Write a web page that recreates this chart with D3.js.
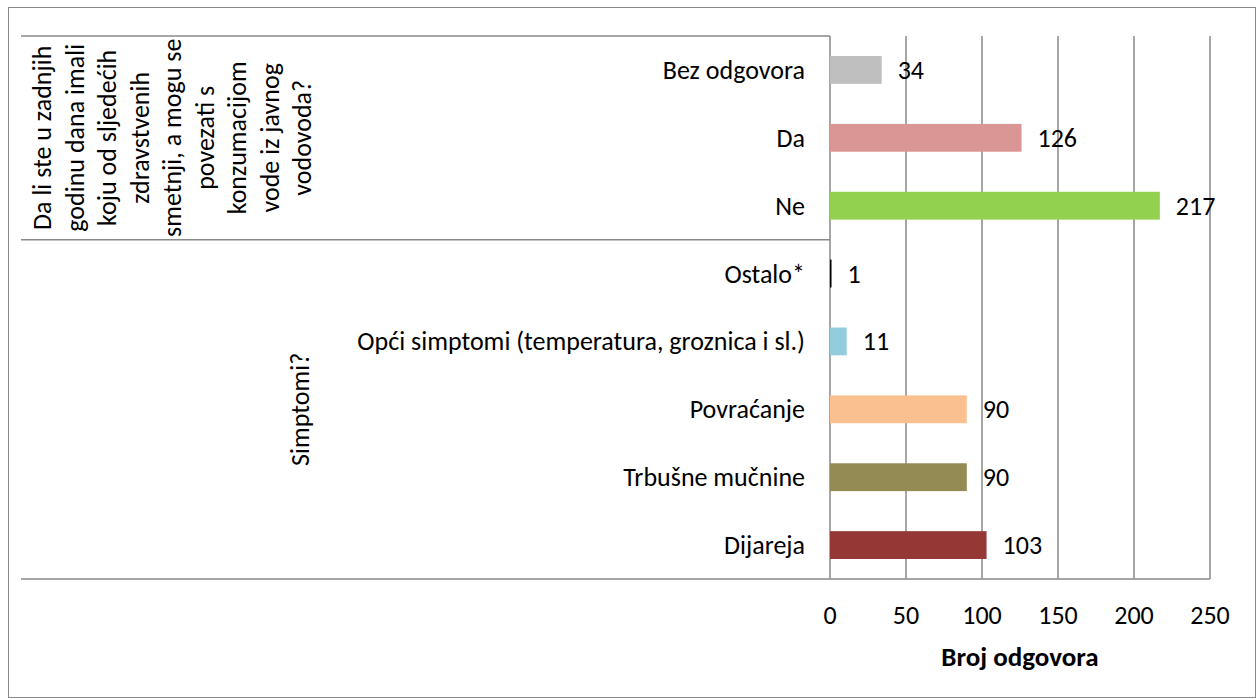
<!DOCTYPE html>
<html>
<head>
<meta charset="utf-8">
<script src="https://cdn.jsdelivr.net/npm/d3@7"></script>
<style>
  body { margin: 0; background: #fff; }
  text { font-family: Calibri, Carlito, Lato, sans-serif; fill: #000; }
</style>
</head>
<body>
<div id="chart"></div>
<script>
// Chart data
const categories = ["Bez odgovora", "Da", "Ne", "Ostalo*", "Opći simptomi (temperatura, groznica i sl.)", "Povraćanje", "Trbušne mučnine", "Dijareja"];
const values = [34, 126, 217, 1, 11, 90, 90, 103];
const colors = ["#BFBFBF", "#D99694", "#92D050", "#000000", "#93CDDD", "#FAC090", "#948A54", "#953735"];
const groupLines = ["Da li ste u zadnjih", "godinu dana imali", "koju od sljedećih", "zdravstvenih", "smetnji, a mogu se", "povezati s", "konzumacijom", "vode iz javnog", "vodovoda?"];
const groups = [
    {label: groupLines, from: 0, to: 2},
    {label: ["Simptomi?"], from: 3, to: 7}
];
const ticks = [0, 50, 100, 150, 200, 250];
const axisTitle = "Broj odgovora";

const W = 1258, H = 698;
const plotLeft = 830, plotRight = 1210, plotTop = 36, plotBottom = 579;
const gridColor = "#898989";
const fs = "26px";

let svg = d3.select("#chart").append("svg")
    .attr("width", W)
    .attr("height", H);

// Outer border
svg.append("rect")
    .attr("x", 8.5).attr("y", 7.5)
    .attr("width", 1247).attr("height", 690)
    .attr("fill", "none")
    .attr("stroke", gridColor)
    .attr("stroke-width", 1);

// Scales
let x = d3.scaleLinear().domain([0, 250]).range([plotLeft, plotRight]);
let y = d3.scaleBand().domain(categories).range([plotTop, plotBottom]).padding(0);
let barH = y.bandwidth() * 0.41;

// Gridlines
svg.append("g")
    .selectAll("line")
    .data(ticks)
    .enter().append("line")
    .attr("x1", d => x(d)).attr("x2", d => x(d))
    .attr("y1", plotTop).attr("y2", plotBottom)
    .attr("stroke", gridColor)
    .attr("stroke-width", 1.5);

// Category axis lines (group separators)
let sepY = [plotTop, y(categories[3]), plotBottom];
svg.append("g")
    .selectAll("line")
    .data(sepY)
    .enter().append("line")
    .attr("x1", 21)
    .attr("x2", (d, i) => i === 2 ? plotRight : plotLeft)
    .attr("y1", d => d).attr("y2", d => d)
    .attr("stroke", gridColor)
    .attr("stroke-width", 1.5);

// Bars
svg.selectAll(".bar")
    .data(values)
    .enter().append("rect")
    .attr("class", "bar")
    .attr("x", x(0))
    .attr("y", (d, i) => y(categories[i]) + y.bandwidth() / 2 - barH / 2)
    .attr("width", d => x(d) - x(0))
    .attr("height", barH)
    .attr("fill", (d, i) => colors[i]);

// Value labels
svg.selectAll(".val")
    .data(values)
    .enter().append("text")
    .attr("class", "val")
    .attr("x", d => x(d) + 16)
    .attr("y", (d, i) => y(categories[i]) + y.bandwidth() / 2)
    .attr("dominant-baseline", "central")
    .style("font-size", fs)
    .text(d => d);

// Category labels
svg.selectAll(".cat")
    .data(categories)
    .enter().append("text")
    .attr("class", "cat")
    .attr("x", 805)
    .attr("y", d => y(d) + y.bandwidth() / 2)
    .attr("text-anchor", "end")
    .attr("dominant-baseline", "central")
    .style("font-size", fs)
    .text(d => d);

// Group labels (rotated)
let g0 = groups[0];
let c0 = (y(categories[g0.from]) + y(categories[g0.to]) + y.bandwidth()) / 2;
svg.append("g")
    .selectAll("text")
    .data(g0.label)
    .enter().append("text")
    .attr("transform", (d, i) => "translate(" + (42 + i * 32.5) + "," + c0 + ") rotate(-90)")
    .attr("text-anchor", "middle")
    .attr("dominant-baseline", "central")
    .style("font-size", fs)
    .text(d => d);

let g1 = groups[1];
let c1 = (y(categories[g1.from]) + y(categories[g1.to]) + y.bandwidth()) / 2;
svg.append("text")
    .attr("transform", "translate(300," + c1 + ") rotate(-90)")
    .attr("text-anchor", "middle")
    .attr("dominant-baseline", "central")
    .style("font-size", fs)
    .text(g1.label[0]);

// Value axis tick labels
svg.append("g")
    .selectAll("text")
    .data(ticks)
    .enter().append("text")
    .attr("x", d => x(d))
    .attr("y", 615)
    .attr("text-anchor", "middle")
    .attr("dominant-baseline", "central")
    .style("font-size", fs)
    .text(d => d);

// Axis title
svg.append("text")
    .attr("x", 1020)
    .attr("y", 656)
    .attr("text-anchor", "middle")
    .attr("dominant-baseline", "central")
    .style("font-size", "27px")
    .style("font-weight", "bold")
    .text(axisTitle);
</script>
</body>
</html>
